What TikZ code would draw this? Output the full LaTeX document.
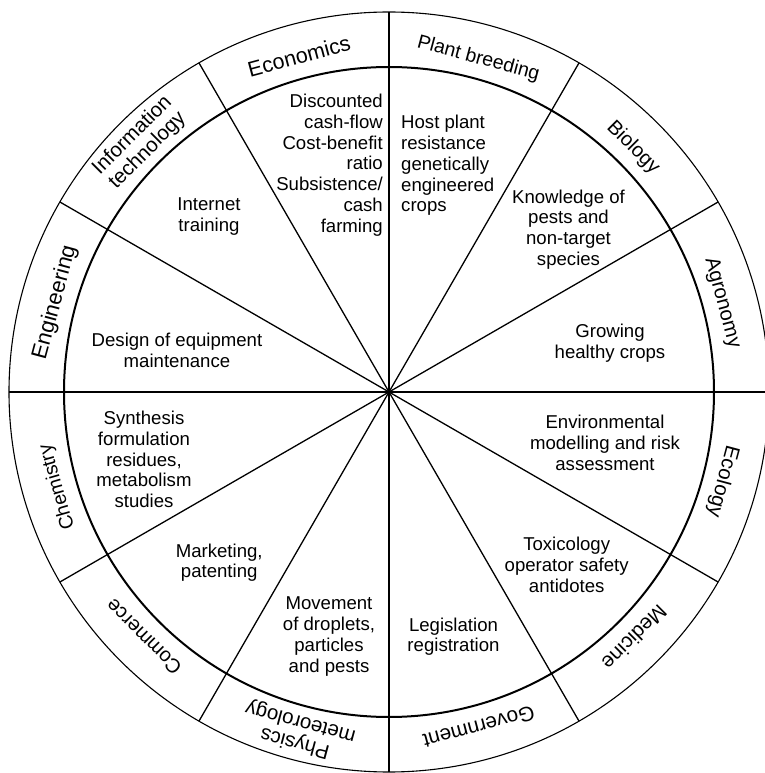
\documentclass[tikz,border=0pt]{standalone}
\usepackage{fontspec}
\setmainfont{Liberation Sans}
\begin{document}
\begin{tikzpicture}[x=1pt,y=1pt,
  rim/.style={line width=1.1pt},
  hub/.style={line width=2pt},
  spoke/.style={line width=1.3pt},
  txt/.style={font=\fontsize{18.6}{20.8}\selectfont, inner sep=0pt},
  field/.style={inner sep=0pt, align=center, font=\fontsize{#1}{21.5}\selectfont},
  field/.default=20.5,
  topic/.style={txt, align=center, anchor=north}
]
\useasboundingbox (-389,-381) rectangle (375,392);
\coordinate (O) at (0,0);

% outer ring and inner disc
\draw[rim] (O) circle (380);
\draw[hub] (O) circle (325);

% twelve spokes from the hub to the rim
\foreach \a in {0,30,...,330} {
  \coordinate (s\a) at (\a:380);
  \draw[spoke] (O) -- (s\a);
}

% disciplines around the rim
\foreach \ang/\sz/\lab in {105/21.5/Economics, 75/19.5/Plant breeding,
    45/20/Biology, 15/20.4/Agronomy, -15/20.5/Ecology, -45/20.5/Medicine,
    -75/20.8/Government, -135/20/Commerce, -164/19.5/Chemistry,
    165/22/Engineering} {
  \node[field=\sz, anchor=base, rotate=\ang-90] (f\ang) at (\ang:340) {\lab};
}
\node[field, anchor=center, rotate=45] (f135) at (135:352) {Information\\technology};
\node[field, anchor=center, rotate=-195] (f255) at (-105:352) {Physics\\meteorology};

% contributions inside each sector
\node[txt, align=right, anchor=north east] (t105) at (-6,298.2)
  {Discounted\\cash-flow\\Cost-benefit\\ratio\\Subsistence/\\cash\\farming};
\node[txt, align=left, anchor=north west] (t75) at (12,276.9)
  {Host plant\\resistance\\genetically\\engineered\\crops};
\node[topic] (t45) at (179.5,202.5) {Knowledge of\\pests and\\non-target\\species};
\node[topic] (t15) at (221,67.7) {Growing\\healthy crops};
\node[topic] (t345) at (216,-23.1) {Environmental\\modelling and risk\\assessment};
\node[topic] (t315) at (177.7,-144.8) {Toxicology\\operator safety\\antidotes};
\node[topic] (t285) at (64.5,-225.5) {Legislation\\registration};
\node[topic] (t255) at (-60,-204.8) {Movement\\of droplets,\\particles\\and pests};
\node[topic] (t225) at (-169.8,-151.5) {Marketing,\\patenting};
\node[topic] (t195) at (-245,-18.8) {Synthesis\\formulation\\residues,\\metabolism\\studies};
\node[topic] (t165) at (-212,59.2) {Design of equipment\\maintenance};
\node[topic] (t135) at (-180,194.5) {Internet\\training};
\end{tikzpicture}
\end{document}
